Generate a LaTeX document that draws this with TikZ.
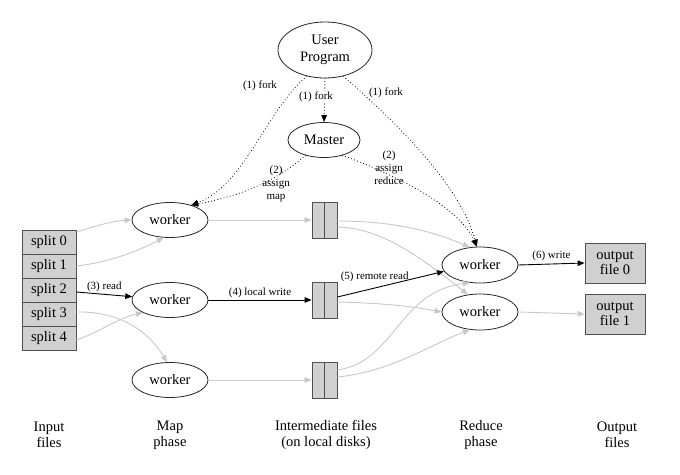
\documentclass[tikz,border=0pt]{standalone}
\usepackage{fontspec}
\setmainfont{Liberation Serif}
\newfontfamily\tmsfont{Liberation Serif}
\usetikzlibrary{shapes.geometric,arrows.meta}
\definecolor{edgegray}{HTML}{C8C8C8}
\definecolor{boxfill}{HTML}{D0D0D0}
\definecolor{boxline}{HTML}{505050}
\begin{document}
\begin{tikzpicture}[x=1pt,y=-1pt,
  ell/.style={ellipse,draw=black!85,line width=0.8pt,inner sep=0pt,
    font=\tmsfont\fontsize{14.5}{16.5}\selectfont,align=center},
  wk/.style={ell,minimum width=76pt,minimum height=35pt},
  splitbox/.style={rectangle,draw=boxline,fill=boxfill,line width=0.8pt,
    minimum width=54pt,minimum height=24pt,inner sep=0pt,font=\tmsfont\fontsize{14.5}{15}\selectfont},
  filebox/.style={rectangle,draw=boxline,fill=boxfill,line width=0.8pt,
    minimum width=25pt,minimum height=36pt,inner sep=0pt},
  outbox/.style={rectangle,draw=boxline,fill=boxfill,line width=0.8pt,
    minimum width=60pt,minimum height=40pt,inner sep=0pt,align=center,
    font=\tmsfont\fontsize{14.5}{15}\selectfont},
  tip/.style={-{Triangle[length=7pt,width=5.5pt]}},
  grayedge/.style={tip,draw=edgegray,line width=0.9pt,color=edgegray},
  blackedge/.style={tip,draw=black,line width=0.9pt},
  dotedge/.style={tip,draw=black,line width=1.1pt,line cap=round,dash pattern=on 0pt off 3.2pt},
  lbl/.style={font=\tmsfont\fontsize{11}{13}\selectfont,align=center,inner sep=1pt},
  phase/.style={font=\tmsfont\fontsize{14.5}{16}\selectfont,align=center,inner sep=0pt}
]
\fill[white] (0,0) rectangle (680,474);
\useasboundingbox (0,0) rectangle (680,474);

% nodes
\node[ell,minimum width=94pt,minimum height=56pt] (up) at (325,50) {User\\Program};
\node[ell,minimum width=72pt,minimum height=35pt] (ms) at (324,140) {Master};

\node[splitbox] (s0) at (49,242) {split 0};
\node[splitbox] (s1) at (49,266) {split 1};
\node[splitbox] (s2) at (49,290) {split 2};
\node[splitbox] (s3) at (49,314) {split 3};
\node[splitbox] (s4) at (49,338) {split 4};

\node[wk] (w1) at (170,220) {worker};
\node[wk] (w2) at (170,300) {worker};
\node[wk] (w3) at (170,380) {worker};

\node[filebox] (f1) at (324.5,220) {};
\node[filebox] (f2) at (324.5,300) {};
\node[filebox] (f3) at (324.5,380) {};
\draw[boxline,line width=0.8pt] (f1.north) -- (f1.south);
\draw[boxline,line width=0.8pt] (f2.north) -- (f2.south);
\draw[boxline,line width=0.8pt] (f3.north) -- (f3.south);

\node[wk,minimum height=36pt] (ra) at (480,265) {worker};
\node[wk,minimum height=36pt] (rb) at (480,312) {worker};

\node[outbox] (o0) at (615,263) {output\\file 0};
\node[outbox] (o1) at (615,314) {output\\file 1};

% gray edges
\draw[grayedge] ([yshift=10pt]s0.east) .. controls (100,225) and (112,221) .. (w1.west);
\draw[grayedge] (s1.east) .. controls (112,262) and (140,250) .. (w1.250);
\draw[grayedge] ([yshift=2pt]s3.east) .. controls (118,311) and (148,330) .. (w3.100);
\draw[grayedge] ([yshift=-2pt]s4.east) .. controls (100,332) and (118,318) .. (w2.205);
\draw[grayedge] (w1.east) -- (f1.west);
\draw[grayedge] (w3.east) -- (f3.west);
\draw[grayedge] ([yshift=-1pt]f1.east) .. controls (390,221) and (430,230) .. (ra.120);
\draw[grayedge] ([yshift=-7pt]f1.east) .. controls (380,228) and (418,255) .. (rb.125);
\draw[grayedge] ([yshift=-2pt]f2.east) .. controls (380,303) and (410,306) .. (rb.west);
\draw[grayedge] ([yshift=10pt]f3.east) .. controls (395,362) and (398,292) .. (ra.240);
\draw[grayedge] ([yshift=3pt]f3.east) .. controls (390,372) and (430,345) .. (rb.240);
\draw[grayedge] (rb.east) -- (o1.west);

% black edges
\draw[blackedge] ([yshift=-2pt]s2.east) -- (w2.175) node[lbl,midway,above=1pt] (l3) {(3) read};
\draw[blackedge] (w2.east) -- (f2.west) node[lbl,midway,above=1pt] (l4) {(4) local write};
\draw[blackedge] ([yshift=3pt]f2.east) -- (ra.190) node[lbl,pos=0.35,above=5pt] (l5) {(5) remote read};
\draw[blackedge] (ra.east) -- (o0.west) node[lbl,midway,above=2pt] (l6) {(6) write};

% dotted edges
\draw[dotedge] (up.235) .. controls (265,112) and (245,185) .. (w1.35);
\draw[dotedge] (up.south) -- (ms.north);
\draw[dotedge] (up.305) .. controls (405,130) and (462,190) .. (ra.100);
\draw[dotedge] (ms.220) .. controls (275,182) and (240,196) .. (w1.35);
\draw[dotedge] (ms.320) .. controls (410,180) and (462,212) .. (ra.100);

% edge labels
\node[lbl] (lf1) at (260,86) {(1) fork};
\node[lbl,fill=white] (lf2) at (316,97) {(1) fork};
\node[lbl] (lf3) at (386,93) {(1) fork};
\node[lbl] (la1) at (276,184) {(2)\\assign\\map};
\node[lbl] (la2) at (389,168) {(2)\\assign\\reduce};

% phase labels
\node[phase] (p1) at (49,435) {Input\\files};
\node[phase] (p2) at (170,435) {Map\\phase};
\node[phase] (p3) at (326,435) {Intermediate files\\(on local disks)};
\node[phase] (p4) at (481,435) {Reduce\\phase};
\node[phase] (p5) at (617,435) {Output\\files};
\end{tikzpicture}
\end{document}
